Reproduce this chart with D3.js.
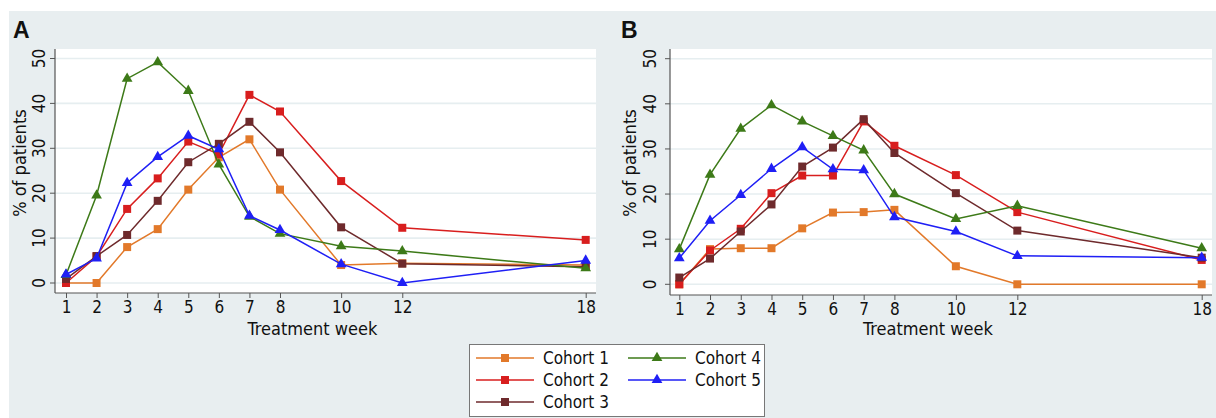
<!DOCTYPE html>
<html>
<head>
<meta charset="utf-8">
<script src="https://cdn.jsdelivr.net/npm/d3@7"></script>
<style>
  body { margin: 0; background: #fff; }
  svg { display: block; }
  text { font-family: "DejaVu Sans Condensed", "DejaVu Sans", sans-serif; fill: #111; }
</style>
</head>
<body>
<div id="chart"></div>
<script>
// data
var weeks = [1, 2, 3, 4, 5, 6, 7, 8, 10, 12, 18];
var cohorts = ["Cohort 1", "Cohort 2", "Cohort 3", "Cohort 4", "Cohort 5"];
var yTicks = [0, 10, 20, 30, 40, 50];

// panel A
var a1 = [0, 0, 8, 12, 20.8, 28, 32, 20.8, 4, 4.4, 4];
var a2 = [0, 5.9, 16.5, 23.3, 31.5, 28.7, 41.9, 38.2, 22.7, 12.3, 9.6];
var a3 = [0.9, 6, 10.7, 18.3, 26.9, 31, 35.9, 29.1, 12.4, 4.3, 3.6];
var a4 = [1.8, 19.5, 45.5, 49.2, 42.8, 26.4, 14.8, 11, 8.2, 7.1, 3.3];
var a5 = [1.9, 5.5, 22.3, 28.1, 32.8, 29.8, 15, 11.8, 4.2, 0, 5];

// panel B
var b1 = [0, 7.8, 8, 8, 12.4, 15.9, 16, 16.5, 4, 0, 0];
var b2 = [0, 7.5, 12.3, 20.2, 24.1, 24.1, 36.1, 30.7, 24.2, 16, 5.4];
var b3 = [1.5, 5.7, 11.7, 17.7, 26.1, 30.3, 36.6, 29.1, 20.2, 11.9, 5.9];
var b4 = [7.8, 24.3, 34.5, 39.7, 36.1, 32.9, 29.7, 20, 14.5, 17.4, 8];
var b5 = [5.8, 14.1, 19.8, 25.6, 30.4, 25.5, 25.3, 14.9, 11.7, 6.3, 5.9];

var colors = ["#e2792a", "#d81e1e", "#6e2a2c", "#3d7a18", "#1f1ff5"];
var shapes = [d3.symbolSquare, d3.symbolSquare, d3.symbolSquare, d3.symbolTriangle, d3.symbolTriangle];

var W = 1216, H = 418;

var svg = d3.select("#chart").append("svg")
    .attr("width", W)
    .attr("height", H);

// grey background
svg.append("rect")
    .attr("x", 9).attr("y", 11)
    .attr("width", W - 9).attr("height", H - 11)
    .attr("fill", "#e8eef0");

function drawPanel(opt) {
    var x = d3.scaleLinear().domain([1, 18]).range(opt.xr);
    var y = d3.scaleLinear().domain([0, 50]).range(opt.yr);
    var g = svg.append("g");

    g.append("rect")
        .attr("x", opt.box[0]).attr("y", opt.box[1])
        .attr("width", opt.box[2] - opt.box[0])
        .attr("height", opt.box[3] - opt.box[1])
        .attr("fill", "#fff");

    // grid
    g.selectAll(".grid").data(yTicks).enter()
        .append("line")
        .attr("x1", opt.box[0]).attr("x2", opt.box[2])
        .attr("y1", function(d) { return y(d); })
        .attr("y2", function(d) { return y(d); })
        .attr("stroke", "#e6eef0")
        .attr("stroke-width", 1.6);

    // y axis, labels turned on their side
    var yAxis = g.append("g")
        .attr("transform", "translate(" + opt.box[0] + ",0)")
        .call(d3.axisLeft(y).tickValues(yTicks).tickSize(5).tickSizeOuter(0));
    yAxis.select(".domain").remove();
    yAxis.selectAll("line").attr("stroke", "#555");
    yAxis.selectAll(".tick").each(function(d) {
        var t = d3.select(this);
        t.attr("transform", null);
        t.select("line").attr("y1", y(d)).attr("y2", y(d));
        t.select("text")
            .attr("transform", "translate(" + (-opt.tickOff) + "," + y(d) + ") rotate(-90)")
            .attr("x", 0).attr("y", 0)
            .attr("dy", "0.36em")
            .attr("text-anchor", "middle")
            .style("font-size", "17px")
            .style("font-family", "'DejaVu Sans Condensed', sans-serif")
            .attr("fill", "#111");
    });

    var xAxis = g.append("g")
        .attr("transform", "translate(0," + opt.box[3] + ")")
        .call(d3.axisBottom(x).tickValues(weeks).tickSize(5).tickSizeOuter(0));
    xAxis.select(".domain").remove();
    xAxis.selectAll("line").attr("stroke", "#555");
    xAxis.selectAll("text")
        .attr("y", 8)
        .style("font-size", "17px")
        .style("font-family", "'DejaVu Sans Condensed', sans-serif")
        .attr("fill", "#111");

    g.append("line")
        .attr("x1", opt.box[0]).attr("x2", opt.box[0])
        .attr("y1", opt.box[1]).attr("y2", opt.box[3])
        .attr("stroke", "#555").attr("stroke-width", 1.2);
    g.append("line")
        .attr("x1", opt.box[0]).attr("x2", opt.box[2])
        .attr("y1", opt.box[3]).attr("y2", opt.box[3])
        .attr("stroke", "#555").attr("stroke-width", 1.2);

    // titles
    g.append("text")
        .attr("x", (opt.box[0] + opt.box[2]) / 2 - 13)
        .attr("y", 335)
        .attr("text-anchor", "middle")
        .style("font-size", "18px")
        .text("Treatment week");
    g.append("text")
        .attr("transform", "translate(" + (opt.box[0] - opt.labOff) + "," + 163 + ") rotate(-90)")
        .attr("text-anchor", "middle")
        .attr("dy", "0.3em")
        .style("font-size", "18px")
        .text("% of patients");
    g.append("text")
        .attr("x", opt.letterX).attr("y", 38)
        .style("font-family", "'Liberation Sans', Arial, sans-serif")
        .style("font-weight", "bold")
        .style("font-size", "23px")
        .text(opt.letter);

    var line = d3.line()
        .x(function(d, i) { return x(weeks[i]); })
        .y(function(d) { return y(d); });

    opt.series.forEach(function(vals, k) {
        var s = g.append("g");
        s.append("path")
            .attr("d", line(vals))
            .attr("fill", "none")
            .attr("stroke", colors[k])
            .attr("stroke-width", 1.5);
        s.selectAll("path.m").data(vals).enter()
            .append("path")
            .attr("class", "m")
            .attr("transform", function(d, i) { return "translate(" + x(weeks[i]) + "," + y(d) + ")"; })
            .attr("d", d3.symbol().type(shapes[k]).size(k < 3 ? 64 : 50))
            .attr("fill", colors[k]);
    });
}

drawPanel({
    letter: "A", letterX: 13,
    xr: [66, 585.7], yr: [283, 58.5],
    box: [55, 49, 596, 293],
    tickOff: 16.5, labOff: 34,
    series: [a1, a2, a3, a4, a5]
});

drawPanel({
    letter: "B", letterX: 621,
    xr: [679.3, 1201.7], yr: [284.3, 58.7],
    box: [670, 49, 1212, 295],
    tickOff: 20, labOff: 39,
    series: [b1, b2, b3, b4, b5]
});

// legend
var legend = svg.append("g");
legend.append("rect")
    .attr("x", 469.5).attr("y", 344.5)
    .attr("width", 295).attr("height", 72)
    .attr("fill", "#fff")
    .attr("stroke", "#777");

var legPos = [[476, 358], [476, 380], [476, 402], [628, 358], [628, 380]];
cohorts.forEach(function(name, k) {
    var p = legPos[k];
    legend.append("line")
        .attr("x1", p[0]).attr("x2", p[0] + 58)
        .attr("y1", p[1]).attr("y2", p[1])
        .attr("stroke", colors[k]).attr("stroke-width", 1.5);
    legend.append("path")
        .attr("transform", "translate(" + (p[0] + 29) + "," + p[1] + ")")
        .attr("d", d3.symbol().type(shapes[k]).size(k < 3 ? 64 : 50))
        .attr("fill", colors[k]);
    legend.append("text")
        .attr("x", p[0] + 67).attr("y", p[1])
        .attr("dy", "0.35em")
        .style("font-size", "17px")
        .text(name);
});
</script>
</body>
</html>
